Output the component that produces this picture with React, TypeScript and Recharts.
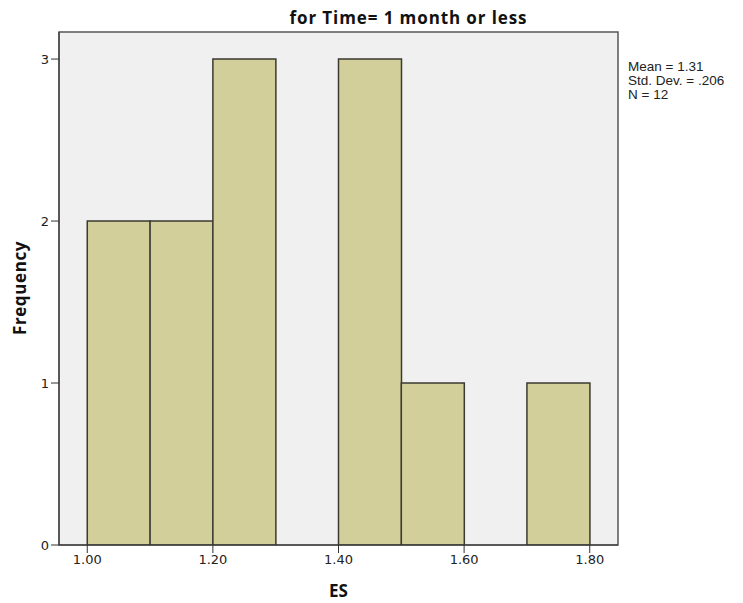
import React from 'react';
import { Bar, BarChart, XAxis, YAxis, ReferenceArea } from 'recharts';

// bin centres of the ES histogram (bin width 0.1)
const binCenters = [1.05, 1.15, 1.25, 1.35, 1.45, 1.55, 1.65, 1.75];
const frequencies = [2, 2, 3, 0, 3, 1, 0, 1];
const xTicks = [1.0, 1.2, 1.4, 1.6, 1.8];
const yTicks = [0, 1, 2, 3];
const statLines = ['Mean = 1.31', 'Std. Dev. = .206', 'N = 12'];

const xDomain: [number, number] = [0.955, 1.845];
const yDomain: [number, number] = [0, 3.167];

const data = binCenters.map((es, i) => ({ es, freq: frequencies[i] }));

const tickStyle = { fill: '#222', fontSize: 13, fontFamily: 'DejaVu Sans' };

const boldText = {
  fontFamily: 'Open Sans',
  fontWeight: 'bold' as const,
  fontSize: 17,
  lineHeight: '20px',
  color: '#111',
  whiteSpace: 'nowrap' as const,
};

export default function App() {
  return (
    <div style={{ position: 'absolute', left: 0, top: 0, width: 743, height: 603, background: '#fff' }}>
      <BarChart
        width={743}
        height={603}
        data={data}
        margin={{ top: 32, right: 125, left: 0, bottom: 0 }}
        barCategoryGap={0}
        barGap={0}
      >
        <XAxis
          dataKey="es"
          type="number"
          domain={xDomain}
          ticks={xTicks}
          tickFormatter={(v: number) => v.toFixed(2)}
          height={58}
          tickSize={8}
          tickMargin={2}
          stroke="#333"
          tick={tickStyle}
          allowDataOverflow
        />
        <YAxis
          type="number"
          domain={yDomain}
          ticks={yTicks}
          width={59}
          tickSize={8}
          tickMargin={2}
          stroke="#333"
          tick={tickStyle}
          allowDataOverflow
        />
        <ReferenceArea
          x1={xDomain[0]}
          x2={xDomain[1]}
          y1={yDomain[0]}
          y2={yDomain[1]}
          fill="#f0f0f0"
          fillOpacity={1}
          stroke="#555"
          strokeWidth={1.5}
          ifOverflow="visible"
        />
        <Bar
          dataKey="freq"
          fill="#d3cf9a"
          stroke="#3a3a30"
          strokeWidth={1.5}
          isAnimationActive={false}
        />
      </BarChart>

      {/* title */}
      <div
        style={{
          ...boldText,
          position: 'absolute', left: 408.5, top: 8.4, transform: 'translateX(-50%)',
          letterSpacing: 0.9,
        }}
      >
        for Time= 1 month or less
      </div>

      {/* summary stats */}
      <div
        style={{
          position: 'absolute', left: 628, top: 60, fontFamily: 'Liberation Sans',
          fontSize: 13.5, lineHeight: '14px', color: '#222', whiteSpace: 'nowrap',
        }}
      >
        {statLines.map((s) => (
          <div key={s}>{s}</div>
        ))}
      </div>

      <div
        style={{
          ...boldText,
          position: 'absolute', left: 338.5, top: 581.4, transform: 'translateX(-50%)',
        }}
      >
        ES
      </div>

      <div
        style={{
          ...boldText,
          position: 'absolute', left: 19.5, top: 288,
          transform: 'translate(-50%, -50%) rotate(-90deg)',
          letterSpacing: 0.6,
        }}
      >
        Frequency
      </div>
    </div>
  );
}
